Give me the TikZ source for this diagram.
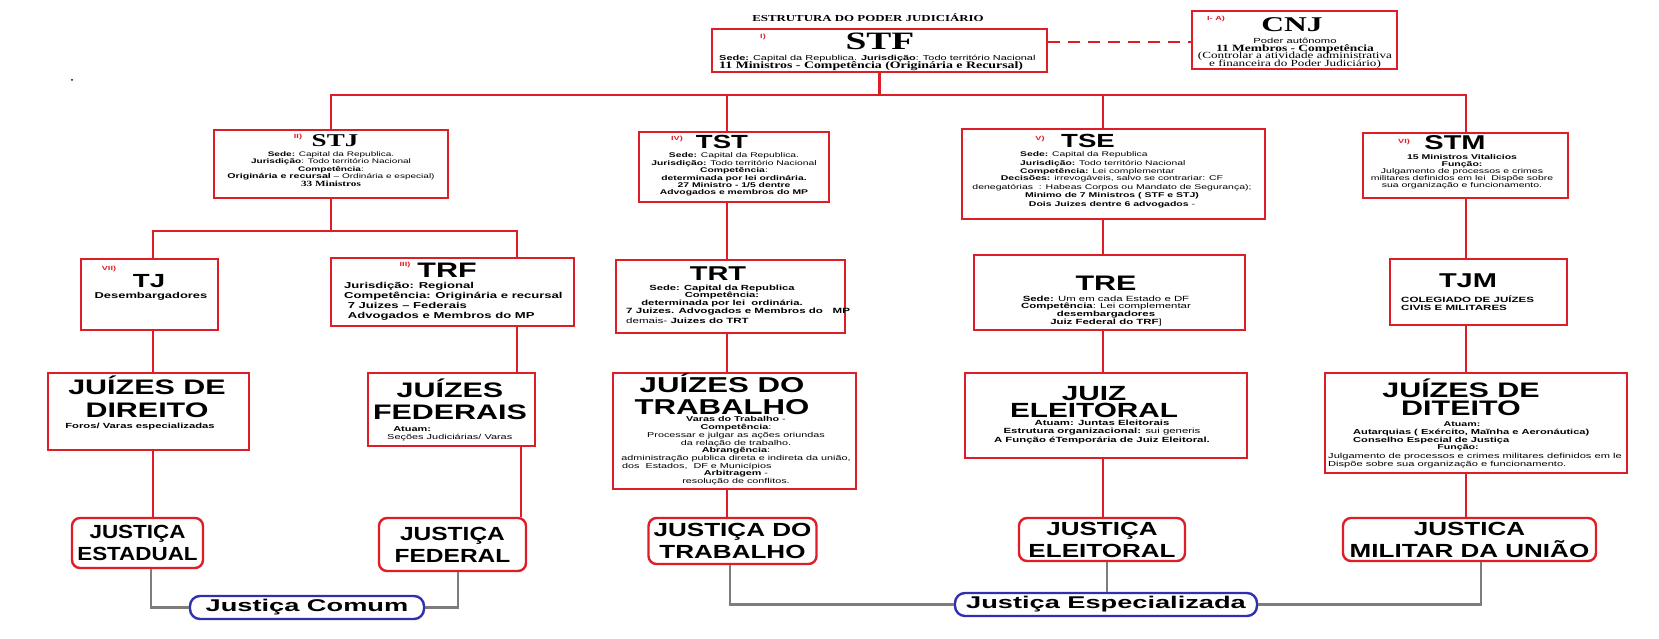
\documentclass[tikz,border=0pt]{standalone}
\usepackage{fontspec}
\setmainfont{Liberation Sans}[FakeStretch=1.52]
\newfontfamily\tnr{Liberation Serif}[FakeStretch=1.4]
\newfontfamily\ttl{Liberation Sans}[FakeStretch=1.45]
\newfontfamily\ttls{Liberation Serif}[FakeStretch=1.5]
\newfontfamily\btm{Liberation Sans}[FakeStretch=1.37]
\newfontfamily\btmn{Liberation Sans}[FakeStretch=1.18]
\newfontfamily\btmf{Liberation Sans}[FakeStretch=1.29]
\newfontfamily\blu{Liberation Sans}[FakeStretch=1.6]
\usetikzlibrary{calc}
\definecolor{bred}{RGB}{222,30,38}
\definecolor{lgrey}{RGB}{125,125,125}
\definecolor{eblue}{RGB}{48,48,175}
\newcommand{\fsz}[2]{\fontsize{#1}{#2}\selectfont}
\lineskiplimit=-100pt
\lineskip=0pt
\tikzset{
  rbox/.style={draw=bred, line width=2.6pt, inner sep=0pt, fill=white},
  jbox/.style={draw=bred, line width=2.4pt, rounded corners=8pt, inner sep=0pt, fill=white, align=center, font=\btm\bfseries\fsz{19}{22}},
  bbox/.style={draw=eblue, line width=2.4pt, rounded corners=10pt, inner sep=0pt, fill=white, font=\blu\bfseries\fsz{17}{17}},
  rline/.style={draw=bred, line width=2.8pt},
  gline/.style={draw=lgrey, line width=2.8pt},
  tt/.style={inner sep=0pt, anchor=base},
  bd/.style={inner sep=0pt, anchor=base, align=center},
  lw/.style={inner sep=0pt, anchor=base west, align=left},
  lab/.style={inner sep=0pt, anchor=base, text=bred, font=\bfseries\fsz{6}{6}},
}
\begin{document}
\begin{tikzpicture}[x=1pt,y=-1pt]
\path[use as bounding box, fill=white] (0,0) rectangle (1659,639);

% ---- boxes
\node[rbox, minimum width=335pt, minimum height=43pt] (stf) at (879.5,50.5) {};
\node[rbox, minimum width=205pt, minimum height=58pt] (cnj) at (1294.5,40) {};
\node[rbox, minimum width=234pt, minimum height=68pt] (stj) at (331,164) {};
\node[rbox, minimum width=190pt, minimum height=70pt] (tst) at (734,167) {};
\node[rbox, minimum width=303pt, minimum height=90pt] (tse) at (1113.5,174) {};
\node[rbox, minimum width=205pt, minimum height=65pt] (stm) at (1465.5,165.5) {};
\node[rbox, minimum width=137pt, minimum height=71pt] (tj) at (149.5,294.5) {};
\node[rbox, minimum width=243pt, minimum height=68pt] (trf) at (452.5,292) {};
\node[rbox, minimum width=229pt, minimum height=73pt] (trt) at (730.5,296.5) {};
\node[rbox, minimum width=271pt, minimum height=75pt] (tre) at (1109.5,292.5) {};
\node[rbox, minimum width=177pt, minimum height=66pt] (tjm) at (1478.5,292) {};
\node[rbox, minimum width=201pt, minimum height=77pt] (jd) at (148.5,411.5) {};
\node[rbox, minimum width=167pt, minimum height=73pt] (jf) at (451.5,409.5) {};
\node[rbox, minimum width=243pt, minimum height=116pt] (jt) at (734.5,431) {};
\node[rbox, minimum width=282pt, minimum height=85pt] (je) at (1106,415.5) {};
\node[rbox, minimum width=302pt, minimum height=100pt] (jm) at (1476,423) {};

\node[jbox, font=\btmn\bfseries\fsz{19}{22}, minimum width=131pt, minimum height=50pt] (est) at (137.5,543) {JUSTIÇA\\ESTADUAL};
\node[jbox, font=\btmf\bfseries\fsz{19}{22}, minimum width=147pt, minimum height=53pt] (fed) at (452.5,544.5) {JUSTIÇA\\FEDERAL};
\node[jbox, minimum width=168pt, minimum height=46pt] (tra) at (732.5,541) {JUSTIÇA DO\\TRABALHO};
\node[jbox, minimum width=166pt, minimum height=43pt] (ele) at (1102,539.5) {JUSTIÇA\\ELEITORAL};
\node[jbox, minimum width=253pt, minimum height=43pt] (mil) at (1469.5,539.5) {JUSTICA\\MILITAR DA UNIÃO};
\node[bbox, minimum width=234pt, minimum height=23pt] (comum) at (307,607.5) {Justiça Comum};
\node[bbox, minimum width=302pt, minimum height=23pt] (espec) at (1106,604.5) {Justiça Especializada};

% ---- coordinates
\coordinate (bus) at (331,95);
\coordinate (bus2) at (331,231);
\coordinate (dsh) at (0,42);
\coordinate (cA) at (153,0);
\coordinate (cB) at (517,0);
\coordinate (cB2) at (521,0);
\coordinate (cC) at (727,0);
\coordinate (cD) at (1103,0);
\coordinate (cE) at (1466,0);
\coordinate (gA) at (151,0);
\coordinate (gB) at (458,0);
\coordinate (gC) at (730,0);
\coordinate (gD) at (1107,0);
\coordinate (gE) at (1481,0);

% ---- red connectors
\draw[rline] (stf.south) -- (stf.south |- bus);
\draw[rline] (stj.north) -- (stj.north |- bus) -- (cE |- bus) -- (cE |- stm.north);
\draw[rline] (cC |- bus) -- (cC |- tst.north);
\draw[rline] (cD |- bus) -- (cD |- tse.north);
\draw[rline] (stj.south) -- (stj.south |- bus2);
\draw[rline] (cA |- tj.north) -- (cA |- bus2) -- (cB |- bus2) -- (cB |- trf.north);
\draw[rline] (cA |- tj.south) -- (cA |- jd.north);
\draw[rline] (cA |- jd.south) -- (cA |- est.north);
\draw[rline] (cB |- trf.south) -- (cB |- jf.north);
\draw[rline] (cB2 |- jf.south) -- (cB2 |- fed.north);
\draw[rline] (cC |- tst.south) -- (cC |- trt.north);
\draw[rline] (cC |- trt.south) -- (cC |- jt.north);
\draw[rline] (cC |- jt.south) -- (cC |- tra.north);
\draw[rline] (cD |- tse.south) -- (cD |- tre.north);
\draw[rline] (cD |- tre.south) -- (cD |- je.north);
\draw[rline] (cD |- je.south) -- (cD |- ele.north);
\draw[rline] (cE |- stm.south) -- (cE |- tjm.north);
\draw[rline] (cE |- tjm.south) -- (cE |- jm.north);
\draw[rline] (cE |- jm.south) -- (cE |- mil.north);
\draw[draw=bred, line width=2.2pt, dash pattern=on 12pt off 8pt] (stf.east |- dsh) -- (cnj.west |- dsh);

% ---- grey connectors
\draw[gline] (gA |- est.south) |- (comum.west);
\draw[gline] (gB |- fed.south) |- (comum.east);
\draw[gline] (gC |- tra.south) |- (espec.west);
\draw[gline] (gD |- ele.south) -- (gD |- espec.north);
\draw[gline] (gE |- mil.south) |- (espec.east);

% ---- texts (multi-line nodes are placed at the baseline of their last line)
\node[circle, fill=black, inner sep=0pt, minimum size=2pt] (dot) at (72,80) {};
\node[tt, font=\tnr\bfseries\fsz{9.2}{9.2}] (title) at (868,22) {ESTRUTURA DO PODER JUDICIÁRIO};

\node[lab] (stfl) at (763,39) {I)};
\node[tt, font=\ttls\bfseries\fsz{25}{25}] (stft) at (880,50) {STF};
\node[lw, font=\fsz{7.2}{8}] (stfb) at (719,68.5) {\textbf{Sede:} Capital da Republica. \textbf{Jurisdição}: Todo território Nacional\\{\tnr\bfseries\fsz{9.9}{8}11 Ministros - Competência (Originária e Recursal)}};

\node[lab] (cnjl) at (1216,21) {I- A)};
\node[tt, font=\ttls\bfseries\fsz{21}{21}] (cnjt) at (1292,32) {CNJ};
\node[bd, font=\fsz{7.4}{7.7}] (cnjb) at (1295,66.5) {Poder autônomo\\{\tnr\bfseries\fsz{9.6}{8}11  Membros - Competência}\\{\tnr\fsz{9.4}{8}(Controlar a atividade  administrativa}\\{\tnr\fsz{9.4}{8}e financeira do Poder Judiciário)}};

\node[lab] (stjl) at (298,139) {II)};
\node[tt, font=\ttls\bfseries\fsz{18}{18}] (stjt) at (335,147) {STJ};
\node[bd, font=\fsz{6.6}{7.6}] (stjb) at (331,186.5) {\textbf{Sede:} Capital da Republica.\\\textbf{Jurisdição}: Todo território Nacional\\\textbf{Competência}:\\\textbf{\fsz{7}{7.6}Originária e recursal} – Ordinária e especial)\\{\tnr\bfseries\fsz{8}{8}33 Ministros}};

\node[lab] (tstl) at (677,141) {IV)};
\node[tt, font=\ttl\bfseries\fsz{19}{19}] (tstt) at (722,149) {TST};
\node[bd, font=\fsz{6.8}{7.4}] (tstb) at (734,195) {\textbf{Sede:} Capital da Republica.\\\textbf{Jurisdição:} Todo território Nacional\\\textbf{Competência}:\\\textbf{determinada por lei ordinária.}\\\textbf{27 Ministro - 1/5 dentre}\\\textbf{Advogados e membros do MP}};

\node[lab] (tsel) at (1040,141) {V)};
\node[tt, font=\ttl\bfseries\fsz{19}{19}] (tset) at (1088,148) {TSE};
\node[lw, font=\fsz{6.8}{8.1}] (tseb1) at (1020,173.2) {\textbf{Sede:} Capital da Republica\\\textbf{Jurisdição:} Todo território Nacional\\\textbf{Competência:} Lei complementar};
\node[bd, font=\fsz{6.9}{8.4}] (tseb2) at (1112,206.2) {\textbf{Decisões:} irrevogáveis, salvo se contrariar: CF\\denegatórias \ : Habeas Corpos ou Mandato de Segurança);\\\textbf{Minimo de 7 Ministros ( STF e STJ)}\\\textbf{Dois Juizes dentre 6 advogados} -};

\node[lab] (stml) at (1404,144) {VI)};
\node[tt, font=\ttl\bfseries\fsz{20}{20}] (stmt) at (1455,150) {STM};
\node[bd, font=\fsz{6.9}{7.2}] (stmb) at (1462,187.8) {\textbf{15 Ministros Vitalicios}\\\textbf{Função:}\\Julgamento de processos e crimes\\militares definidos em lei \ Dispõe sobre\\sua organização e funcionamento.};

\node[lab] (tjl) at (109,270) {VII)};
\node[tt, font=\ttl\bfseries\fsz{19}{19}] (tjt) at (149,287) {TJ};
\node[tt, font=\bfseries\fsz{8.5}{8.5}] (tjb) at (151,298) {Desembargadores};

\node[lab] (trfl) at (405,266) {III)};
\node[tt, font=\ttl\bfseries\fsz{21}{21}] (trft) at (447,277) {TRF};
\node[lw, font=\bfseries\fsz{8.6}{10}] (trfb) at (344,318) {Jurisdição: Regional\\Competência: Originária e recursal\\\ 7 Juizes – Federais\\\ Advogados e Membros do MP};

\node[tt, font=\ttl\bfseries\fsz{20}{20}] (trtt) at (718,280) {TRT};
\node[bd, font=\bfseries\fsz{7.4}{7.6}] (trtb1) at (722,305.2) {Sede: Capital da Republica\\Competência:\\determinada por lei \ ordinária.};
\node[lw, font=\bfseries\fsz{7.6}{10}] (trtb2) at (626,323) {7 Juizes. Advogados e Membros do \ \ MP\\{\mdseries demais-} Juizes do TRT};

\node[tt, font=\ttl\bfseries\fsz{21}{21}] (tret) at (1106,290) {TRE};
\node[bd, font=\fsz{7.5}{7.7}] (treb) at (1106,324.1) {\textbf{Sede:} Um em cada Estado e DF\\\textbf{Competência}: Lei complementar\\\textbf{desembargadores}\\\textbf{Juiz Federal do TRF}]};

\node[tt, font=\ttl\bfseries\fsz{20}{20}] (tjmt) at (1468,287) {TJM};
\node[lw, font=\bfseries\fsz{7.6}{8.5}] (tjmb) at (1401,310.5) {COLEGIADO DE JUÍZES\\CIVIS E MILITARES};

\node[bd, font=\ttl\bfseries\fsz{21}{23}] (jdt) at (147,417) {JUÍZES DE\\DIREITO};
\node[tt, font=\bfseries\fsz{7.4}{7.4}] (jdb) at (140,428) {Foros/ Varas especializadas};

\node[bd, font=\ttl\bfseries\fsz{21}{22}] (jft) at (450,419) {JUÍZES\\FEDERAIS};
\node[lw, font=\fsz{7.2}{8}] (jfb) at (387,439) {\ \ \textbf{Atuam:}\\Seções Judiciárias/ Varas};

\node[bd, font=\ttl\bfseries\fsz{21.5}{22}] (jtt) at (722,414.5) {JUÍZES DO\\TRABALHO};
\node[bd, font=\fsz{7.1}{7.7}] (jtb1) at (736,460.4) {\textbf{Varas do Trabalho} -\\\textbf{Competência}:\\Processar e julgar as ações oriundas\\da relação de trabalho.\\\textbf{Abrangência}:\\administração publica direta e indireta da união,};
\node[lw, font=\fsz{7.1}{7.7}] (jtb2) at (622,468.1) {dos \ Estados, \ DF e Municípios};
\node[bd, font=\fsz{7.1}{7.7}] (jtb3) at (736,483.5) {\textbf{Arbitragem} -\\resolução de conflitos.};

\node[bd, font=\ttl\bfseries\fsz{20.5}{17}] (jet) at (1094,417) {JUIZ\\ELEITORAL};
\node[bd, font=\bfseries\fsz{7.5}{8.4}] (jeb) at (1102,442) {Atuam: Juntas Eleitorais\\Estrutura organizacional: {\mdseries sui generis}\\A Função éTemporária de Juiz Eleitoral.};

\node[bd, font=\ttl\bfseries\fsz{21}{18}] (jmt) at (1461,415) {JUÍZES DE\\DITEITO};
\node[tt, font=\bfseries\fsz{7}{7}] (jmb1) at (1462,426) {Atuam:};
\node[lw, font=\bfseries\fsz{7.3}{8}] (jmb2) at (1353,442) {Autarquias ( Exército, Maĩnha e Aeronáutica)\\Conselho Especial de Justiça};
\node[tt, font=\bfseries\fsz{7}{7}] (jmb3) at (1458,449) {Função:};
\node[lw, font=\fsz{7.3}{8}] (jmb4) at (1328,466) {Julgamento de processos e crimes militares definidos em le\\Dispõe sobre sua organização e funcionamento.};
\end{tikzpicture}
\end{document}
